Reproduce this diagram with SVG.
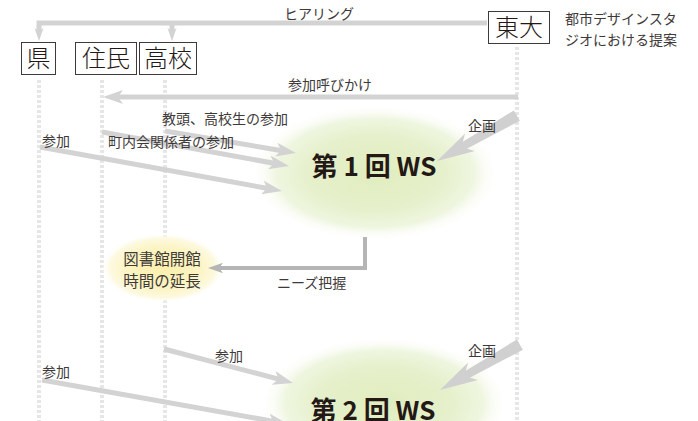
<svg xmlns="http://www.w3.org/2000/svg" width="698" height="421" viewBox="0 0 698 421">
<style>
text{font-family:"Noto Sans CJK JP","Noto Sans",sans-serif;fill:#3e3a39}
.lbl{font-size:14px}
.box{fill:#fff;stroke:#3e3a39;stroke-width:1}
.bt{font-size:24px;font-weight:300;text-anchor:middle;fill:#231815}
.ws{font-size:26px;font-weight:bold;text-anchor:middle;fill:#231815}
.lib{font-size:15.5px;text-anchor:middle}
.dot{stroke:#e6e6e6;stroke-width:4;stroke-dasharray:3 2;fill:none}
.arr{stroke:#d3d3d3;stroke-width:5;fill:none;marker-end:url(#ah)}
.arrs{stroke:#d3d3d3;stroke-width:5;fill:none}
.plan{fill:#d0d0d0}
</style>
<defs>
<marker id="ah" viewBox="0 0 20 14" markerWidth="20" markerHeight="14" refX="6" refY="7" orient="auto" markerUnits="userSpaceOnUse"><path d="M0,0 L20,7 L0,14 L5,7 z" fill="#d3d3d3"/></marker>
<marker id="ahs" viewBox="0 0 20 14" markerWidth="13" markerHeight="9.1" refX="6" refY="7" orient="auto" markerUnits="userSpaceOnUse"><path d="M0,0 L20,7 L0,14 L5,7 z" fill="#d3d3d3"/></marker>
<marker id="ahd" viewBox="0 0 20 14" markerWidth="15" markerHeight="10.5" refX="6" refY="7" orient="auto" markerUnits="userSpaceOnUse"><path d="M0,0 L20,7 L0,14 L5,7 z" fill="#b5b5b5"/></marker>
<radialGradient id="gg" cx="0.5" cy="0.5" r="0.5">
<stop offset="0" stop-color="#e0edbe"/>
<stop offset="0.55" stop-color="#e6f0cc"/>
<stop offset="0.8" stop-color="#eff6e0"/>
<stop offset="1" stop-color="#ffffff" stop-opacity="0"/>
</radialGradient>
<radialGradient id="gy" cx="0.5" cy="0.5" r="0.5">
<stop offset="0" stop-color="#fbf0ad"/>
<stop offset="0.6" stop-color="#fcf4c4"/>
<stop offset="0.85" stop-color="#fdf9e0"/>
<stop offset="1" stop-color="#ffffff" stop-opacity="0"/>
</radialGradient>
</defs>
<rect width="698" height="421" fill="#fff"/>

<g id="lifelines">
<line class="dot" x1="39" y1="80" x2="39" y2="421"/>
<line class="dot" x1="102" y1="80" x2="102" y2="421"/>
<line class="dot" x1="165" y1="80" x2="165" y2="421"/>
<line class="dot" x1="517" y1="47" x2="517" y2="421"/>
</g>

<g id="ws1">
<ellipse cx="375" cy="173" rx="124" ry="68" fill="url(#gg)"/>
<text class="ws" x="374" y="176">第 1 回 WS</text>
</g>
<g id="ws2">
<ellipse cx="384" cy="403" rx="124" ry="66" fill="url(#gg)"/>
<text class="ws" x="373" y="420">第 2 回 WS</text>
</g>
<g id="library">
<ellipse cx="163" cy="268" rx="62" ry="35" fill="url(#gy)"/>
<text class="lib" x="162" y="264.5">図書館開館</text>
<text class="lib" x="162" y="287">時間の延長</text>
</g>

<g id="connectors">
<path class="arrs" d="M487,23 H39 V32" marker-end="url(#ahs)"/>
<path class="arrs" d="M172,23 V32" marker-end="url(#ahs)"/>
<path class="arr" d="M518,97 H117"/>
<path class="arr" d="M165,131 L282.2,150.7"/>
<path class="arr" d="M102,132 L275.2,163.5"/>
<path class="arr" d="M40,147 L268.2,188.5"/>
<path class="arr" d="M164,349 L279.5,379.4"/>
<path class="arr" d="M42,380 L274.2,421.5"/>
<path d="M365,237 V268 H218.5" fill="none" stroke="#b5b5b5" stroke-width="4" marker-end="url(#ahd)"/>
<polygon class="plan" points="437,161 465.1,133.5 462.8,141.7 513.9,110.4 519.9,120.8 466.8,148.7 474.9,150.9"/>
<polygon class="plan" transform="translate(3,229)" points="437,161 465.1,133.5 462.8,141.7 513.9,110.4 519.9,120.8 466.8,148.7 474.9,150.9"/>
</g>

<g id="labels">
<text class="lbl" x="319" y="19" text-anchor="middle">ヒアリング</text>
<text class="lbl" x="330" y="90" text-anchor="middle">参加呼びかけ</text>
<text class="lbl" x="162" y="124">教頭、高校生の参加</text>
<text class="lbl" x="108" y="147">町内会関係者の参加</text>
<text class="lbl" x="42" y="146">参加</text>
<text class="lbl" x="468" y="131">企画</text>
<text class="lbl" x="277" y="288">ニーズ把握</text>
<text class="lbl" x="215" y="361">参加</text>
<text class="lbl" x="42" y="377">参加</text>
<text class="lbl" x="468" y="356">企画</text>
<text class="lbl" x="565" y="24">都市デザインスタ</text>
<text class="lbl" x="565" y="45">ジオにおける提案</text>
</g>

<g id="ken"><rect class="box" x="21.5" y="42.5" width="34" height="32"/><text class="bt" x="38.5" y="67">県</text></g>
<g id="jumin"><rect class="box" x="75.5" y="42.5" width="61" height="32"/><text class="bt" x="106" y="67">住民</text></g>
<g id="koko"><rect class="box" x="139.5" y="42.5" width="57" height="32"/><text class="bt" x="168" y="67">高校</text></g>
<g id="todai"><rect class="box" x="488.5" y="11.5" width="61" height="32"/><text class="bt" x="519" y="36">東大</text></g>
</svg>
